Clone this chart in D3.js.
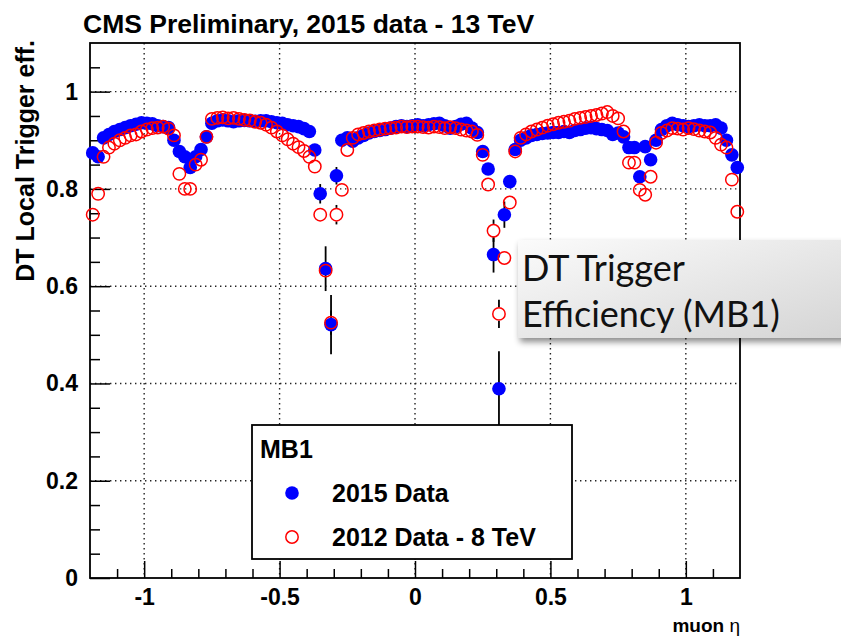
<!DOCTYPE html>
<html>
<head>
<meta charset="utf-8">
<script src="https://cdn.jsdelivr.net/npm/d3@7"></script>
<style>
  body { margin: 0; background: #fff; }
</style>
</head>
<body>
<div id="chart"></div>
<script>
// eta bin centres (0.02 wide)
const etaBins = [
  -1.19, -1.17, -1.15, -1.13, -1.11, -1.09, -1.07, -1.05, -1.03, -1.01,
  -0.99, -0.97, -0.95, -0.93, -0.91, -0.89, -0.87, -0.85, -0.83, -0.81,
  -0.79, -0.77, -0.75, -0.73, -0.71, -0.69, -0.67, -0.65, -0.63, -0.61,
  -0.59, -0.57, -0.55, -0.53, -0.51, -0.49, -0.47, -0.45, -0.43, -0.41,
  -0.39, -0.37, -0.35, -0.33, -0.31, -0.29, -0.27, -0.25, -0.23, -0.21,
  -0.19, -0.17, -0.15, -0.13, -0.11, -0.09, -0.07, -0.05, -0.03, -0.01,
  0.01, 0.03, 0.05, 0.07, 0.09, 0.11, 0.13, 0.15, 0.17, 0.19,
  0.21, 0.23, 0.25, 0.27, 0.29, 0.31, 0.33, 0.35, 0.37, 0.39,
  0.41, 0.43, 0.45, 0.47, 0.49, 0.51, 0.53, 0.55, 0.57, 0.59,
  0.61, 0.63, 0.65, 0.67, 0.69, 0.71, 0.73, 0.75, 0.77, 0.79,
  0.81, 0.83, 0.85, 0.87, 0.89, 0.91, 0.93, 0.95, 0.97, 0.99,
  1.01, 1.03, 1.05, 1.07, 1.09, 1.11, 1.13, 1.15, 1.17, 1.19
]

// 2015 data - 13 TeV
const eff2015 = [
  0.874, 0.866, 0.905, 0.912, 0.918, 0.922, 0.926, 0.930, 0.933, 0.936,
  0.935, 0.934, 0.930, 0.928, 0.926, 0.900, 0.877, 0.866, 0.844, 0.866,
  0.881, 0.907, 0.935, 0.940, 0.942, 0.940, 0.938, 0.940, 0.941, 0.940,
  0.939, 0.940, 0.940, 0.938, 0.936, 0.935, 0.932, 0.930, 0.928, 0.924,
  0.918, 0.880, 0.790, 0.636, 0.521, 0.827, 0.900, 0.905, 0.898, 0.905,
  0.910, 0.915, 0.918, 0.920, 0.922, 0.925, 0.928, 0.930, 0.928, 0.930,
  0.932, 0.930, 0.932, 0.934, 0.935, 0.930, 0.925, 0.928, 0.933, 0.935,
  0.925, 0.916, 0.877, 0.841, 0.665, 0.389, 0.747, 0.815, 0.881, 0.900,
  0.905, 0.910, 0.912, 0.914, 0.915, 0.916, 0.916, 0.918, 0.916, 0.920,
  0.922, 0.925, 0.926, 0.924, 0.922, 0.920, 0.912, 0.915, 0.907, 0.885,
  0.885, 0.825, 0.887, 0.860, 0.900, 0.922, 0.930, 0.935, 0.932, 0.930,
  0.928, 0.930, 0.932, 0.930, 0.930, 0.932, 0.925, 0.900, 0.870, 0.844
]

// 2012 data - 8 TeV
const eff2012 = [
  0.747, 0.790, 0.866, 0.885, 0.893, 0.900, 0.905, 0.910, 0.912, 0.918,
  0.922, 0.925, 0.926, 0.928, 0.924, 0.910, 0.831, 0.800, 0.800, 0.850,
  0.860, 0.907, 0.944, 0.946, 0.947, 0.945, 0.946, 0.944, 0.942, 0.941,
  0.938, 0.936, 0.932, 0.926, 0.918, 0.910, 0.902, 0.893, 0.886, 0.878,
  0.866, 0.846, 0.747, 0.632, 0.525, 0.747, 0.798, 0.880, 0.905, 0.912,
  0.915, 0.918, 0.920, 0.922, 0.924, 0.925, 0.926, 0.928, 0.927, 0.928,
  0.928, 0.927, 0.926, 0.928, 0.927, 0.925, 0.927, 0.925, 0.922, 0.920,
  0.918, 0.911, 0.870, 0.809, 0.714, 0.543, 0.658, 0.772, 0.877, 0.905,
  0.912, 0.918, 0.922, 0.926, 0.930, 0.933, 0.936, 0.938, 0.940, 0.944,
  0.946, 0.948, 0.950, 0.952, 0.955, 0.958, 0.950, 0.945, 0.918, 0.854,
  0.854, 0.798, 0.788, 0.825, 0.895, 0.915, 0.920, 0.925, 0.924, 0.922,
  0.925, 0.923, 0.920, 0.918, 0.916, 0.905, 0.891, 0.885, 0.819, 0.753
]

// visible error bars only: [eta, error]
const err2015 = [[-0.35, 0.02], [-0.33, 0.046], [-0.31, 0.061], [-0.29, 0.018], [0.29, 0.037], [0.31, 0.077], [0.33, 0.027]]
const err2012 = [[-0.31, 0.025], [-0.29, 0.02], [0.29, 0.023], [0.31, 0.029]]

const xMajor = [-1, -0.5, 0, 0.5, 1]
const xMinor = [-1.1, -0.9, -0.8, -0.7, -0.6, -0.4, -0.3, -0.2, -0.1, 0.1, 0.2, 0.3, 0.4, 0.6, 0.7, 0.8, 0.9, 1.1]
const yMajor = [0, 0.2, 0.4, 0.6, 0.8, 1]
const yMinor = [0.05, 0.1, 0.15, 0.25, 0.3, 0.35, 0.45, 0.5, 0.55, 0.65, 0.7, 0.75, 0.85, 0.9, 0.95, 1.05]
const legendItems = ['2015 Data', '2012 Data - 8 TeV']

const margin = { top: 43, left: 90, right: 101, bottom: 61 }
const width = 841 - margin.left - margin.right
const height = 639 - margin.top - margin.bottom
const font = "'Liberation Sans', Arial, Helvetica, sans-serif"

const svg = d3
  .select('#chart')
  .append('svg')
  .attr('width', 841)
  .attr('height', 639)

const defs = svg.append('defs')
const grad = defs
  .append('linearGradient')
  .attr('id', 'boxfill')
  .attr('x1', 0).attr('y1', 0).attr('x2', 1).attr('y2', 1)
grad.append('stop').attr('offset', '0%').attr('stop-color', '#fbfbfb')
grad.append('stop').attr('offset', '100%').attr('stop-color', '#d4d4d4')
defs
  .append('filter')
  .attr('id', 'shadow')
  .attr('x', '-10%').attr('y', '-20%').attr('width', '130%').attr('height', '150%')
  .append('feDropShadow')
  .attr('dx', 2).attr('dy', 4).attr('stdDeviation', 3)
  .attr('flood-color', '#000').attr('flood-opacity', 0.45)

const g = svg
  .append('g')
  .attr('transform', 'translate(' + margin.left + ',' + margin.top + ')')

const xScale = d3.scaleLinear().domain([-1.2, 1.2]).range([0, width])
const yScale = d3.scaleLinear().domain([0, 1.1]).range([height, 0])

// dotted grid
g.selectAll('.xgrid')
  .data(xMajor)
  .enter()
  .append('line')
  .attr('class', 'xgrid')
  .attr('x1', d => xScale(d)).attr('x2', d => xScale(d))
  .attr('y1', 0).attr('y2', height)
g.selectAll('.ygrid')
  .data(yMajor.filter(d => d > 0))
  .enter()
  .append('line')
  .attr('class', 'ygrid')
  .attr('y1', d => yScale(d)).attr('y2', d => yScale(d))
  .attr('x1', 0).attr('x2', width)
g.selectAll('.xgrid, .ygrid')
  .attr('stroke', '#222')
  .attr('stroke-width', 1.4)
  .attr('stroke-dasharray', '1.4,3.6')

// axes, ticks point inward like ROOT
const xAxisMinor = d3.axisBottom(xScale).tickValues(xMinor).tickSize(-9).tickSizeOuter(0).tickFormat('')
const xAxisMajor = d3.axisBottom(xScale).tickValues(xMajor).tickSize(-17).tickSizeOuter(0).tickPadding(11).tickFormat(d => String(d))
const yAxisMinor = d3.axisLeft(yScale).tickValues(yMinor).tickSize(-10).tickSizeOuter(0).tickFormat('')
const yAxisMajor = d3.axisLeft(yScale).tickValues(yMajor).tickSize(-20).tickSizeOuter(0).tickPadding(12).tickFormat(d => String(d))

g.append('g').attr('class', 'axis').attr('transform', 'translate(0,' + height + ')').call(xAxisMinor)
g.append('g').attr('class', 'axis').attr('transform', 'translate(0,' + height + ')').call(xAxisMajor)
g.append('g').attr('class', 'axis').call(yAxisMinor)
g.append('g').attr('class', 'axis').call(yAxisMajor)

g.selectAll('.axis line').attr('stroke', '#000').attr('stroke-width', 1.5)
g.selectAll('.axis path').attr('stroke', 'none')
g.selectAll('.axis text')
  .attr('fill', '#000')
  .attr('font-family', font)
  .attr('font-weight', 700)
  .attr('font-size', 23)

// frame
g.append('rect')
  .attr('x', 0).attr('y', 0)
  .attr('width', width).attr('height', height)
  .attr('fill', 'none')
  .attr('stroke', '#000')
  .attr('stroke-width', 1.8)

const r = 6.8

function errorBars(errs, values, cls, gapTop) {
  const rows = errs.map(e => {
    const i = etaBins.findIndex(b => Math.abs(b - e[0]) < 1e-6)
    return { eta: e[0], val: values[i], err: e[1] }
  })
  // two segments per point, leaving the marker itself clear
  g.selectAll('.' + cls + '-up')
    .data(rows)
    .enter()
    .append('line')
    .attr('x1', d => xScale(d.eta)).attr('x2', d => xScale(d.eta))
    .attr('y1', d => yScale(d.val + d.err)).attr('y2', d => yScale(d.val) - gapTop)
    .attr('stroke', '#000').attr('stroke-width', 1.8)
  g.selectAll('.' + cls + '-down')
    .data(rows)
    .enter()
    .append('line')
    .attr('x1', d => xScale(d.eta)).attr('x2', d => xScale(d.eta))
    .attr('y1', d => yScale(d.val) + gapTop).attr('y2', d => yScale(d.val - d.err))
    .attr('stroke', '#000').attr('stroke-width', 1.8)
}

errorBars(err2015, eff2015, 'e15', 0)
errorBars(err2012, eff2012, 'e12', r)

g.selectAll('.pt2015')
  .data(etaBins)
  .enter()
  .append('circle')
  .attr('class', 'pt2015')
  .attr('cx', d => xScale(d))
  .attr('cy', (d, i) => yScale(eff2015[i]))
  .attr('r', r)
  .attr('fill', '#0000ff')

g.selectAll('.pt2012')
  .data(etaBins)
  .enter()
  .append('circle')
  .attr('class', 'pt2012')
  .attr('cx', d => xScale(d))
  .attr('cy', (d, i) => yScale(eff2012[i]))
  .attr('r', r - 0.6)
  .attr('fill', 'none')
  .attr('stroke', '#ff0000')
  .attr('stroke-width', 1.5)

// legend
const legend = svg.append('g').attr('transform', 'translate(252,425)')
legend.append('rect')
  .attr('width', 320).attr('height', 134)
  .attr('fill', '#fff').attr('stroke', '#000').attr('stroke-width', 1.8)
legend.append('text')
  .attr('x', 8).attr('y', 33)
  .text('MB1')
legend.selectAll('.leg-label')
  .data(legendItems)
  .enter()
  .append('text')
  .attr('class', 'leg-label')
  .attr('x', 80)
  .attr('y', (d, i) => 77 + i * 44)
  .text(d => d)
legend.selectAll('text')
  .attr('font-family', font).attr('font-weight', 700).attr('font-size', 25).attr('fill', '#000')
legend.append('circle').attr('cx', 40).attr('cy', 68).attr('r', r).attr('fill', '#0000ff')
legend.append('circle').attr('cx', 40).attr('cy', 112).attr('r', r - 0.6)
  .attr('fill', 'none').attr('stroke', '#ff0000').attr('stroke-width', 1.5)

// titles
svg.append('text')
  .attr('x', 83).attr('y', 33)
  .attr('font-family', font).attr('font-weight', 700).attr('font-size', 26.5)
  .text('CMS Preliminary, 2015 data - 13 TeV')

svg.append('text')
  .attr('transform', 'translate(34,40) rotate(-90)')
  .attr('text-anchor', 'end')
  .attr('font-family', font).attr('font-weight', 700).attr('font-size', 25)
  .text('DT Local Trigger eff.')

const xLabel = svg.append('text')
  .attr('x', 740).attr('y', 632)
  .attr('text-anchor', 'end')
  .attr('font-family', font).attr('font-size', 19)
xLabel.append('tspan').attr('font-weight', 700).text('muon ')
xLabel.append('tspan').text('η')

// overlay annotation box
const note = svg.append('g')
note.append('rect')
  .attr('x', 518).attr('y', 240)
  .attr('width', 340).attr('height', 98)
  .attr('fill', 'url(#boxfill)')
  .attr('filter', 'url(#shadow)')
note.selectAll('.note-line')
  .data(['DT Trigger', 'Efficiency (MB1)'])
  .enter()
  .append('text')
  .attr('x', 522)
  .attr('y', (d, i) => 281 + i * 46)
  .attr('font-family', "Lato, 'Open Sans', sans-serif")
  .attr('font-size', 36)
  .attr('fill', '#111')
  .text(d => d)
</script>
</body>
</html>
